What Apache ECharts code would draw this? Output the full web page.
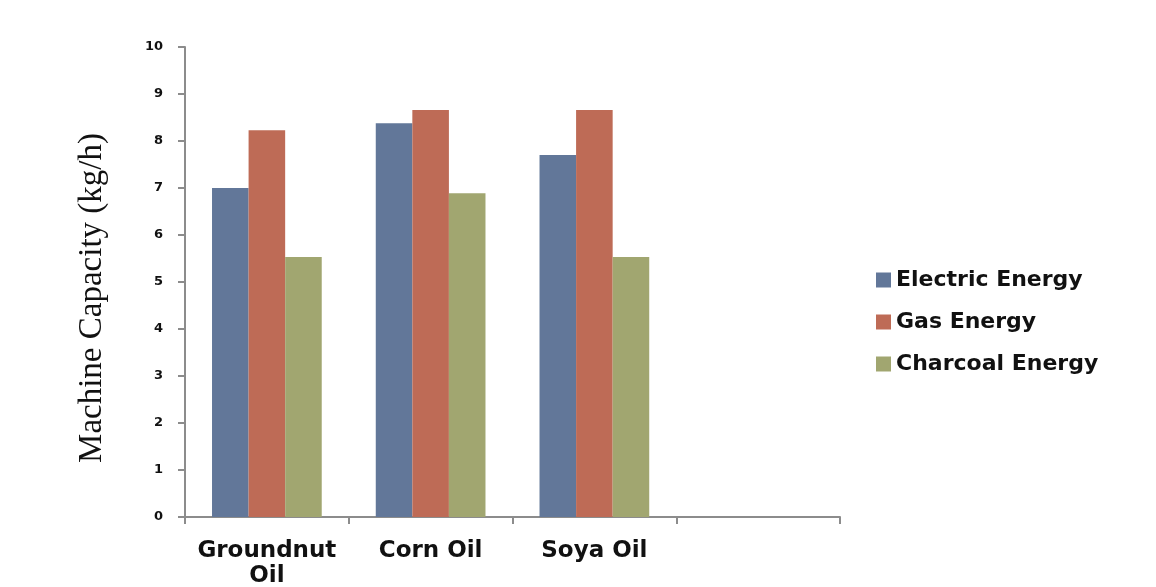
<!DOCTYPE html>
<html>
<head>
<meta charset="utf-8">
<script src="https://cdn.jsdelivr.net/npm/echarts@6/dist/echarts.min.js"></script>
<style>
  html, body { margin: 0; padding: 0; background: #fff; }
  #chart { width: 1156px; height: 587px; }
</style>
</head>
<body>
<div id="chart"></div>
<script>
// categories, last slot is left empty like the original
var categories = ['Groundnut\nOil', 'Corn Oil', 'Soya Oil', ''];
var electric = [7.0, 8.38, 7.7, null];
var gas = [8.23, 8.66, 8.66, null];
var charcoal = [5.53, 6.89, 5.53, null];
var yTicks = [0, 10, 1]; // min, max, interval

var chart = echarts.init(document.getElementById('chart'));
var labelFont = '"DejaVu Sans", Lato, sans-serif';

var option = {
  animation: false,
  color: ['#627799', '#BE6B56', '#A1A670'],
  grid: { left: 185, right: 316, top: 47, bottom: 70, outerBoundsMode: 'none' },
  legend: {
    orient: 'vertical',
    left: 871,
    top: 264,
    itemWidth: 15,
    itemHeight: 15,
    itemGap: 20,
    icon: 'rect',
    textStyle: { fontFamily: labelFont, fontWeight: 'bold', fontSize: 22, color: '#111' },
    data: ['Electric Energy', 'Gas Energy', 'Charcoal Energy']
  },
  graphic: [{
    type: 'text',
    x: 92, y: 298,
    rotation: Math.PI / 2,
    style: {
      text: 'Machine Capacity (kg/h)',
      font: '33px "Liberation Serif", "Times New Roman", serif',
      fill: '#111',
      align: 'center',
      verticalAlign: 'middle'
    }
  }],
  xAxis: {
    type: 'category',
    data: categories,
    axisLine: { lineStyle: { color: '#8c8c8c', width: 2 } },
    axisTick: { show: true, length: 7, interval: 0, lineStyle: { color: '#8c8c8c', width: 2 } },
    axisLabel: {
      interval: 0,
      margin: 22,
      fontFamily: labelFont,
      fontWeight: 'bold',
      fontSize: 23,
      lineHeight: 25,
      color: '#111'
    }
  },
  yAxis: {
    type: 'value',
    min: yTicks[0],
    max: yTicks[1],
    interval: yTicks[2],
    splitLine: { show: false },
    axisLine: { show: true, lineStyle: { color: '#8c8c8c', width: 2 } },
    axisTick: { show: true, length: 7, lineStyle: { color: '#8c8c8c', width: 2 } },
    axisLabel: {
      margin: 22,
      fontFamily: labelFont,
      fontWeight: 'bold',
      fontSize: 13,
      color: '#111'
    }
  },
  series: [
    { name: 'Electric Energy', type: 'bar', data: electric, barGap: '0%', barCategoryGap: '33%' },
    { name: 'Gas Energy', type: 'bar', data: gas, barGap: '0%', barCategoryGap: '33%' },
    { name: 'Charcoal Energy', type: 'bar', data: charcoal, barGap: '0%', barCategoryGap: '33%' }
  ]
};

chart.setOption(option);
</script>
</body>
</html>
